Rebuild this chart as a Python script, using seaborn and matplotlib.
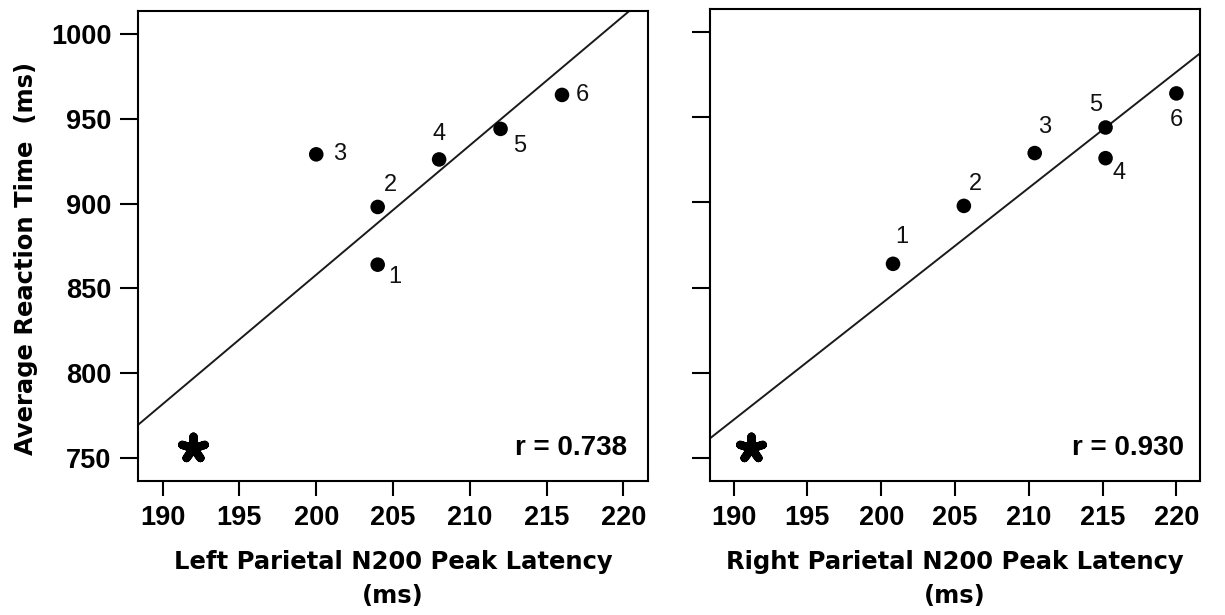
import matplotlib
matplotlib.use('Agg')
import matplotlib.pyplot as plt
import numpy as np
import pandas as pd
import seaborn as sns

# Data
subjects = ['1', '2', '3', '4', '5', '6']
reaction_time = [864, 898, 929, 926, 944, 964]
left_latency = [204, 204, 200, 208, 212, 216]
right_latency = [200.8, 205.6, 210.4, 215.2, 215.2, 220.0]
# outlier marked with an asterisk (included in the fit line)
star_rt = [756]
star_left = [192.0]
star_right = [191.2]
r_values = ['0.738', '0.930']
x_labels = ['Left Parietal N200 Peak Latency\n(ms)',
            'Right Parietal N200 Peak Latency\n(ms)']
y_label = 'Average Reaction Time  (ms)'
x_ticks = [190, 195, 200, 205, 210, 215, 220]
y_ticks = [750, 800, 850, 900, 950, 1000]

# label offsets (points) for the subject numbers
left_offsets = [(12, -9), (9, 16), (17, 0), (0, 18), (14, -12), (15, 0)]
right_offsets = [(6, 19), (8, 16), (7, 19), (10, -11), (-7, 16), (0, -19)]

sns.set_style('ticks')
plt.rcParams['font.family'] = ['Liberation Sans', 'DejaVu Sans']
plt.rcParams.update({'text.color': 'black', 'axes.labelcolor': 'black',
                     'xtick.color': 'black', 'ytick.color': 'black'})
label_font = {'family': 'DejaVu Sans', 'size': 17.5, 'weight': 'bold'}

fig = plt.figure(figsize=(12.25, 6.15), dpi=100)
ax1 = fig.add_axes([0.1127, 0.218, 0.4163, 0.764])
ax2 = fig.add_axes([0.5796, 0.218, 0.400, 0.767])

panels = [(ax1, left_latency, star_left, left_offsets, r_values[0], x_labels[0], 0.959),
          (ax2, right_latency, star_right, right_offsets, r_values[1], x_labels[1], 0.967)]

for ax, lat, star_x, offsets, r, xlab, rx in panels:
    ax.set_xlim(188.4, 221.6)
    ax.set_ylim(736.6, 1013.4)
    df = pd.DataFrame({'latency': lat + star_x, 'rt': reaction_time + star_rt})
    sns.regplot(data=df, x='latency', y='rt', ax=ax, scatter=False, ci=None,
                truncate=False, line_kws={'color': '#1a1a1a', 'lw': 1.4})
    sns.scatterplot(x=lat, y=reaction_time, ax=ax, color='black', s=110,
                    edgecolor='none', zorder=3)
    sns.scatterplot(x=star_x, y=star_rt, ax=ax, color='black', s=290,
                    marker=(5, 2, 0), linewidth=6, zorder=3)
    ax.collections[-1].set_capstyle('round')
    for s, xv, yv, off in zip(subjects, lat, reaction_time, offsets):
        ax.annotate(s, (xv, yv), xytext=off, textcoords='offset points',
                    ha='center', va='center', fontsize=17, color='#111111')
    ax.text(rx, 0.07, f'r = {r}', transform=ax.transAxes, ha='right', va='center',
            fontsize=20, fontweight='bold')
    ax.set_xlim(188.4, 221.6)
    ax.set_ylim(736.6, 1013.4)
    ax.set_xticks(x_ticks)
    ax.set_yticks(y_ticks)
    ax.set_xlabel(xlab, fontdict=label_font, linespacing=1.55, labelpad=14)
    ax.tick_params(axis='x', length=11, width=1.5, labelsize=19.5, pad=6)
    ax.tick_params(axis='y', length=13, width=1.5, labelsize=19.5, pad=6)
    for lbl in ax.get_xticklabels() + ax.get_yticklabels():
        lbl.set_fontweight('bold')
    for sp in ax.spines.values():
        sp.set_visible(True)
        sp.set_linewidth(1.5)
        sp.set_color('black')

ax1.set_ylabel(y_label, fontdict=label_font)
ax1.yaxis.set_label_coords(-0.196, 0.474)
ax2.set_ylabel('')
ax2.set_yticklabels([])

fig.savefig('out.png', dpi=100, facecolor='white')
